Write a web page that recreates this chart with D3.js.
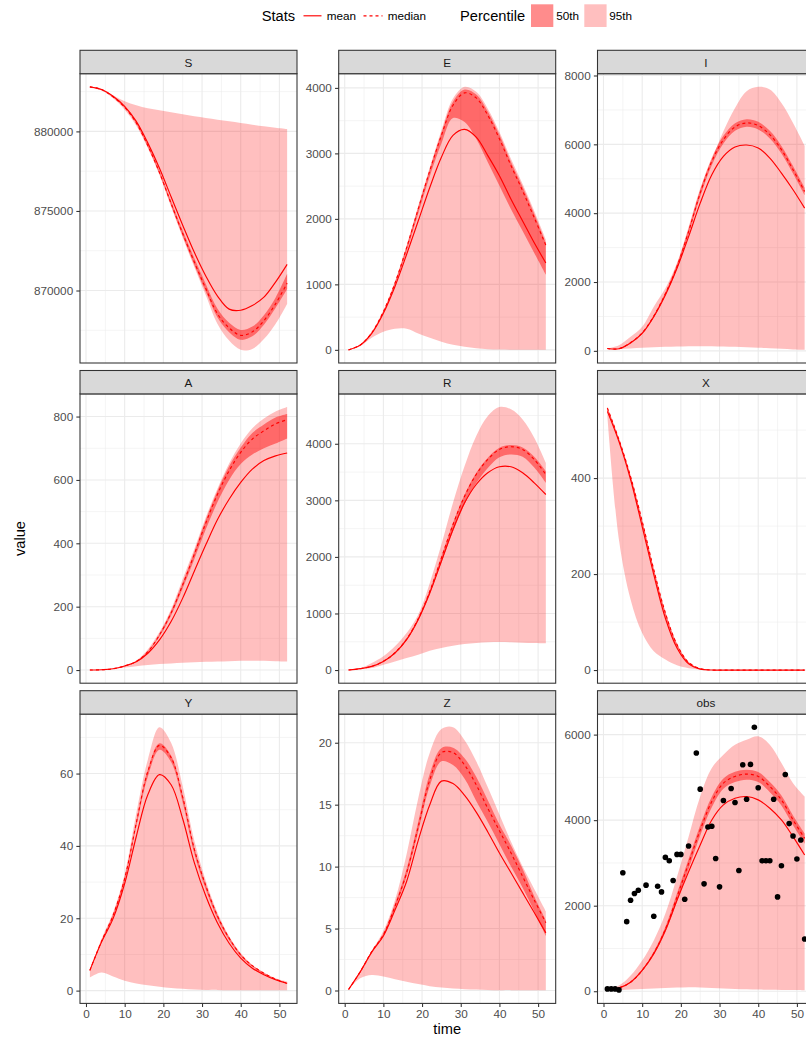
<!DOCTYPE html>
<html><head><meta charset="utf-8">
<script src="https://cdn.jsdelivr.net/npm/d3@7"></script>
<style>body{margin:0;background:#fff} svg{display:block;font-family:"Liberation Sans",Arial,Helvetica,sans-serif}</style>
</head><body><svg id="chart" width="806" height="1038"></svg>
<script>
const time = [1,4,7,10,13,16,19,22,25,28,31,34,37,40,43,46,49,52];
const xTicks = [0,10,20,30,40,50];

const S_mean   = [882800,882631,882210,881579,880632,879263,877685,875895,874106,872400,870900,869650,868830,868760,869054,869580,870527,871643];
const S_median = [882800,882631,882168,881516,880526,879095,877411,875474,873580,871790,870106,868527,867650,867180,867400,868107,869159,870464];
const S_hi95   = [882800,882673,882273,881895,881642,881452,881326,881200,881074,880947,880842,880737,880632,880526,880421,880316,880232,880147];
const S_lo95   = [882737,882568,882084,881368,880358,878948,877264,875263,873327,871475,869685,867896,866850,866270,866330,866949,867896,869159];
const S_hi50   = [882800,882640,882190,881560,880580,879170,877520,875620,873770,872030,870400,868850,867970,867520,867730,868450,869550,871050];
const S_lo50   = [882800,882620,882150,881480,880480,879020,877320,875350,873420,871600,869900,868300,867380,866900,867120,867850,868900,870100];
const S_ticks  = [870000,875000,880000];

const E_mean   = [0,72,251,558,968,1455,1967,2480,2941,3274,3366,3248,2966,2659,2300,1967,1634,1327];
const E_median = [0,72,261,584,1019,1557,2147,2736,3274,3735,3924,3847,3581,3222,2812,2428,2018,1598];
const E_hi95   = [0,87,277,599,1045,1593,2198,2787,3350,3837,4016,3940,3683,3325,2915,2531,2121,1685];
const E_lo95   = [0,56,184,277,323,323,251,184,123,77,46,26,10,5,2,1,0,0];
const E_hi50   = [0,80,270,592,1035,1580,2180,2760,3310,3790,3975,3900,3640,3285,2870,2490,2080,1640];
const E_lo50   = [0,65,250,565,985,1500,2080,2650,3150,3540,3478,3222,2864,2505,2147,1813,1480,1148];
const E_ticks  = [0,1000,2000,3000,4000];

const I_mean   = [68,60,230,505,990,1621,2398,3320,4291,5117,5651,5923,5981,5893,5602,5165,4680,4146];
const I_median = [68,62,240,520,1010,1660,2447,3466,4583,5505,6136,6505,6621,6544,6282,5845,5262,4631];
const I_hi95   = [68,165,408,699,1282,1816,2550,3600,4720,5554,6379,7058,7544,7670,7592,7204,6622,5961];
const I_lo95   = [49,49,68,87,107,117,126,136,136,136,126,117,107,87,78,58,39,29];
const I_hi50   = [68,64,250,540,1040,1700,2520,3550,4680,5610,6246,6615,6731,6654,6392,5955,5372,4741];
const I_lo50   = [68,60,230,500,980,1620,2377,3386,4483,5395,6026,6395,6511,6434,6172,5735,5152,4521];
const I_ticks  = [0,2000,4000,6000,8000];

const A_mean   = [0,1,4,13,26,53,95,153,227,312,396,475,539,592,634,661,676,685];
const A_median = [0,1,4,13,27,58,111,180,269,365,465,555,629,687,729,755,777,790];
const A_hi95   = [0,1,5,14,30,66,120,192,287,382,483,573,652,715,763,794,816,830];
const A_lo95   = [0,1,4,8,12,16,19,21,23,25,26,27,28,29,29,29,28,27];
const A_hi50   = [0,1,4,13,28,60,114,186,276,373,475,566,643,702,748,775,797,808];
const A_lo50   = [0,1,4,12,26,55,106,172,258,350,445,530,600,650,680,700,715,731];
const A_ticks  = [0,200,400,600,800];

const R_mean   = [0,24,65,153,301,537,891,1363,1923,2484,2956,3280,3487,3593,3593,3487,3310,3103];
const R_median = [0,24,65,155,305,545,905,1392,1982,2572,3074,3457,3723,3900,3947,3900,3723,3457];
const R_hi95   = [0,30,124,242,419,655,979,1540,2218,2956,3605,4136,4490,4649,4608,4431,4106,3664];
const R_lo95   = [0,12,35,94,153,212,271,342,389,431,460,478,490,496,490,484,478,472];
const R_hi50   = [0,24,67,160,315,560,925,1417,2012,2602,3104,3487,3753,3930,3977,3935,3770,3516];
const R_lo50   = [0,24,63,150,295,525,875,1340,1900,2450,2930,3300,3570,3760,3812,3770,3580,3310];
const R_ticks  = [0,1000,2000,3000,4000];

const X_mean   = [539,476,397,299,199,108,46,13,2,0,0,0,0,0,0,0,0,0];
const X_median = [546,480,403,310,209,119,53,16,3,0,0,0,0,0,0,0,0,0];
const X_hi95   = [548,483,406,313,212,121,55,17,3,0,0,0,0,0,0,0,0,0];
const X_lo95   = [530,271,147,77,39,22,10,4,1,0,0,0,0,0,0,0,0,0];
const X_hi50   = [548,482,405,312,211,121,55,17,3,0,0,0,0,0,0,0,0,0];
const X_lo50   = [540,476,398,302,202,112,48,14,2,0,0,0,0,0,0,0,0,0];
const X_ticks  = [0,200,400];

const Y_mean   = [5.6,13.4,19.9,29.6,42.6,54.2,59.7,56.9,47.5,35.4,26.1,18.7,13.1,9.0,6.2,4.4,3.0,2.0];
const Y_median = [5.6,13.6,20.8,31.0,46.3,60.6,67.8,64.4,53.5,39.1,28.9,20.6,14.5,9.9,6.9,4.8,3.2,2.0];
const Y_hi95   = [5.8,14.3,21.6,32.2,49.0,63.9,72.8,68.5,56.5,41.5,30.3,21.5,15.0,10.4,7.1,5.0,3.4,2.5];
const Y_lo95   = [3.6,5.0,3.9,2.7,2.0,1.5,1.1,0.7,0.5,0.3,0.2,0.2,0.1,0.1,0.1,0.1,0.1,0.1];
const Y_hi50   = [5.6,13.8,21.1,31.4,46.9,61.2,68.4,65.0,54.1,39.6,29.3,21.0,14.8,10.1,7.0,4.9,3.3,2.1];
const Y_lo50   = [5.5,13.3,20.2,30.2,45.3,59.2,66.6,63.2,52.0,37.8,27.8,19.8,13.9,9.5,6.6,4.6,3.0,1.9];
const Y_ticks  = [0,20,40,60];

const Z_mean   = [0.08,1.5,3.1,4.4,6.5,8.8,12.1,15.0,16.9,16.7,15.75,14.4,12.8,11.1,9.5,7.9,6.29,4.65];
const Z_median = [0.08,1.5,3.15,4.5,6.8,9.5,13.2,17.0,19.2,19.2,18.2,16.6,14.7,12.9,11.1,9.2,7.3,5.47];
const Z_hi95   = [0.08,1.55,3.2,4.8,7.3,11.0,15.5,19.2,21.1,21.25,20.2,18.5,16.4,14.2,12.0,10.0,8.2,6.4];
const Z_lo95   = [0.08,0.98,1.25,1.12,0.9,0.71,0.52,0.35,0.24,0.16,0.11,0.08,0.05,0.03,0.03,0.02,0.02,0.02];
const Z_hi50   = [0.08,1.52,3.2,4.6,7.0,9.8,13.6,17.5,19.56,19.6,18.75,17.25,15.35,13.4,11.7,9.8,7.6,5.67];
const Z_lo50   = [0.08,1.5,3.1,4.4,6.6,9.2,12.8,16.5,18.5,18.2,17.1,15.3,13.6,11.8,10.0,8.3,6.4,4.4];
const Z_ticks  = [0,5,10,15,20];

const obs_mean   = [55,78,211,485,876,1424,2128,2792,3418,4005,4357,4513,4552,4474,4279,4005,3614,3184];
const obs_median = [55,78,211,490,890,1450,2206,2988,3770,4435,4865,5022,5076,5022,4787,4474,4005,3575];
const obs_hi95   = [55,133,368,720,1189,1815,2675,3614,4552,5217,5530,5765,5882,5960,5765,5335,4865,4552];
const obs_lo95   = [55,31,40,55,65,78,86,94,90,78,66,55,47,39,35,31,27,23];
const obs_hi50   = [55,80,220,510,930,1510,2290,3090,3880,4550,4975,5130,5180,5125,4890,4575,4110,3690];
const obs_lo50   = [55,76,200,470,850,1380,2100,2860,3640,4300,4735,4890,4945,4890,4655,4345,3880,3450];
const obs_ticks  = [0,2000,4000,6000];
const obsTime  = [1,2,3,4,5,6,7,8,9,11,13,14,15,16,17,18,19,20,21,22,24,25,26,27,28,29,30,31,33,34,35,36,37,38,39,40,41,42,43,44,45,46,47,48,49,50,51,52];
const obsValue = [55,55,55,31,2769,1627,2128,2284,2362,2480,1752,2456,2323,3129,3051,2589,3199,3199,2151,3395,5569,4725,2511,3841,3856,3105,2440,4459,4740,4412,2824,5296,4490,5303,6172,4756,3051,3051,3051,4490,2206,2933,5069,3919,3629,3090,3536,1220];

const panels = [
  {name:"S", mean:S_mean, median:S_median, hi95:S_hi95, lo95:S_lo95, hi50:S_hi50, lo50:S_lo50, ticks:S_ticks},
  {name:"E", mean:E_mean, median:E_median, hi95:E_hi95, lo95:E_lo95, hi50:E_hi50, lo50:E_lo50, ticks:E_ticks},
  {name:"I", mean:I_mean, median:I_median, hi95:I_hi95, lo95:I_lo95, hi50:I_hi50, lo50:I_lo50, ticks:I_ticks},
  {name:"A", mean:A_mean, median:A_median, hi95:A_hi95, lo95:A_lo95, hi50:A_hi50, lo50:A_lo50, ticks:A_ticks},
  {name:"R", mean:R_mean, median:R_median, hi95:R_hi95, lo95:R_lo95, hi50:R_hi50, lo50:R_lo50, ticks:R_ticks},
  {name:"X", mean:X_mean, median:X_median, hi95:X_hi95, lo95:X_lo95, hi50:X_hi50, lo50:X_lo50, ticks:X_ticks},
  {name:"Y", mean:Y_mean, median:Y_median, hi95:Y_hi95, lo95:Y_lo95, hi50:Y_hi50, lo50:Y_lo50, ticks:Y_ticks},
  {name:"Z", mean:Z_mean, median:Z_median, hi95:Z_hi95, lo95:Z_lo95, hi50:Z_hi50, lo50:Z_lo50, ticks:Z_ticks},
  {name:"obs", mean:obs_mean, median:obs_median, hi95:obs_hi95, lo95:obs_lo95, hi50:obs_hi50, lo50:obs_lo50, ticks:obs_ticks, ptT:obsTime, ptV:obsValue}
];

const svg = d3.select("#chart");
const colX = [80, 338.7, 597.5], panelW = 217;
const stripTop = [50.3, 370.5, 690.7], stripH = 23.4, panelH = 289.3;
const RED = "#FF0000";
const fmt = d3.format("d");
const curve = d3.curveCatmullRom.alpha(0.5);

const defs = svg.append("defs");

panels.forEach((p, i) => {
  const col = i % 3, row = Math.floor(i / 3);
  const left = colX[col], top = stripTop[row] + stripH;
  const x = d3.scaleLinear().domain([1 - 2.55, 52 + 2.55]).range([left, left + panelW]);
  const all = [].concat(p.mean, p.median, p.hi95, p.lo95, p.hi50, p.lo50, p.ptV || []);
  const [mn, mx] = d3.extent(all);
  const pad = (mx - mn) * 0.05;
  const y = d3.scaleLinear().domain([mn - pad, mx + pad]).range([top + panelH, top]);
  const g = svg.append("g");

  g.append("rect").attr("x", left).attr("y", top).attr("width", panelW).attr("height", panelH).attr("fill", "#fff");
  const step = p.ticks[1] - p.ticks[0];
  const minorY = [];
  for (let v = p.ticks[0] - step / 2; v <= y.domain()[1]; v += step) if (v >= y.domain()[0]) minorY.push(v);
  const minorX = [5, 15, 25, 35, 45];
  g.selectAll(".mgy").data(minorY).join("line").attr("x1", left).attr("x2", left + panelW)
    .attr("y1", d => y(d)).attr("y2", d => y(d)).attr("stroke", "#EBEBEB").attr("stroke-width", 0.55);
  g.selectAll(".mgx").data(minorX).join("line").attr("y1", top).attr("y2", top + panelH)
    .attr("x1", d => x(d)).attr("x2", d => x(d)).attr("stroke", "#EBEBEB").attr("stroke-width", 0.55);
  g.selectAll(".gy").data(p.ticks).join("line").attr("x1", left).attr("x2", left + panelW)
    .attr("y1", d => y(d)).attr("y2", d => y(d)).attr("stroke", "#EBEBEB").attr("stroke-width", 1.1);
  g.selectAll(".gx").data(xTicks).join("line").attr("y1", top).attr("y2", top + panelH)
    .attr("x1", d => x(d)).attr("x2", d => x(d)).attr("stroke", "#EBEBEB").attr("stroke-width", 1.1);

  const cid = "clip" + i;
  defs.append("clipPath").attr("id", cid).append("rect").attr("x", left).attr("y", top).attr("width", panelW).attr("height", panelH);
  const pg = g.append("g").attr("clip-path", `url(#${cid})`);

  const idx = d3.range(time.length);
  const area = (lo, hi) => d3.area().x(k => x(time[k])).y0(k => y(lo[k])).y1(k => y(hi[k])).curve(curve);
  const line = arr => d3.line().x(k => x(time[k])).y(k => y(arr[k])).curve(curve);

  pg.append("path").attr("d", area(p.lo95, p.hi95)(idx)).attr("fill", RED).attr("fill-opacity", 0.25);
  pg.append("path").attr("d", area(p.lo50, p.hi50)(idx)).attr("fill", RED).attr("fill-opacity", 0.45);
  pg.append("path").attr("d", line(p.mean)(idx)).attr("fill", "none").attr("stroke", RED).attr("stroke-width", 1.15);
  pg.append("path").attr("d", line(p.median)(idx)).attr("fill", "none").attr("stroke", RED).attr("stroke-width", 1.15).attr("stroke-dasharray", "3,3");
  if (p.ptT) {
    pg.selectAll("circle").data(p.ptT.map((t, k) => [t, p.ptV[k]])).join("circle")
      .attr("cx", d => x(d[0])).attr("cy", d => y(d[1])).attr("r", 2.8).attr("fill", "#000");
  }

  g.append("rect").attr("x", left).attr("y", top).attr("width", panelW).attr("height", panelH)
    .attr("fill", "none").attr("stroke", "#333333").attr("stroke-width", 1.07);
  g.append("rect").attr("x", left).attr("y", stripTop[row]).attr("width", panelW).attr("height", stripH)
    .attr("fill", "#D9D9D9").attr("stroke", "#333333").attr("stroke-width", 1.07);
  g.append("text").attr("x", left + panelW / 2).attr("y", stripTop[row] + stripH / 2)
    .attr("text-anchor", "middle").attr("dominant-baseline", "central")
    .attr("font-size", "11.73px").attr("fill", "#1A1A1A").text(p.name);

  const ya = g.append("g").attr("transform", `translate(${left},0)`)
    .call(d3.axisLeft(y).tickValues(p.ticks).tickFormat(fmt).tickSize(3.65).tickPadding(3.2));
  ya.select(".domain").remove();
  ya.selectAll("line").attr("stroke", "#333333").attr("stroke-width", 1.07);
  ya.selectAll("text").attr("font-size", "11.73px").attr("fill", "#4D4D4D").attr("font-family", null);

  if (row === 2) {
    const xa = g.append("g").attr("transform", `translate(0,${top + panelH})`)
      .call(d3.axisBottom(x).tickValues(xTicks).tickFormat(fmt).tickSize(3.65).tickPadding(3));
    xa.select(".domain").remove();
    xa.selectAll("line").attr("stroke", "#333333").attr("stroke-width", 1.07);
    xa.selectAll("text").attr("font-size", "11.73px").attr("fill", "#4D4D4D").attr("font-family", null);
  }
});

svg.append("text").attr("transform", "translate(20,538.5) rotate(-90)").attr("text-anchor", "middle")
  .attr("dominant-baseline", "central").attr("font-size", "14.67px").attr("fill", "#000").text("value");
svg.append("text").attr("x", 447.2).attr("y", 1029).attr("text-anchor", "middle")
  .attr("dominant-baseline", "central").attr("font-size", "14.67px").attr("fill", "#000").text("time");

const lg = svg.append("g");
const ly = 15.8;
lg.append("text").attr("x", 261.7).attr("y", ly).attr("dominant-baseline", "central").attr("font-size", "14.67px").text("Stats");
lg.append("line").attr("x1", 303.5).attr("x2", 321.5).attr("y1", ly).attr("y2", ly).attr("stroke", RED).attr("stroke-width", 1.15);
lg.append("text").attr("x", 326.7).attr("y", ly).attr("dominant-baseline", "central").attr("font-size", "11.73px").text("mean");
lg.append("line").attr("x1", 363.5).attr("x2", 382.5).attr("y1", ly).attr("y2", ly).attr("stroke", RED).attr("stroke-width", 1.15).attr("stroke-dasharray", "3,3");
lg.append("text").attr("x", 387.7).attr("y", ly).attr("dominant-baseline", "central").attr("font-size", "11.73px").text("median");
lg.append("text").attr("x", 460).attr("y", ly).attr("dominant-baseline", "central").attr("font-size", "14.67px").text("Percentile");
lg.append("rect").attr("x", 531).attr("y", 4.3).attr("width", 22.3).attr("height", 22.7).attr("fill", RED).attr("fill-opacity", 0.45);
lg.append("text").attr("x", 556.3).attr("y", ly).attr("dominant-baseline", "central").attr("font-size", "11.73px").text("50th");
lg.append("rect").attr("x", 584.3).attr("y", 4.3).attr("width", 22.3).attr("height", 22.7).attr("fill", RED).attr("fill-opacity", 0.25);
lg.append("text").attr("x", 609.3).attr("y", ly).attr("dominant-baseline", "central").attr("font-size", "11.73px").text("95th");
</script></body></html>
